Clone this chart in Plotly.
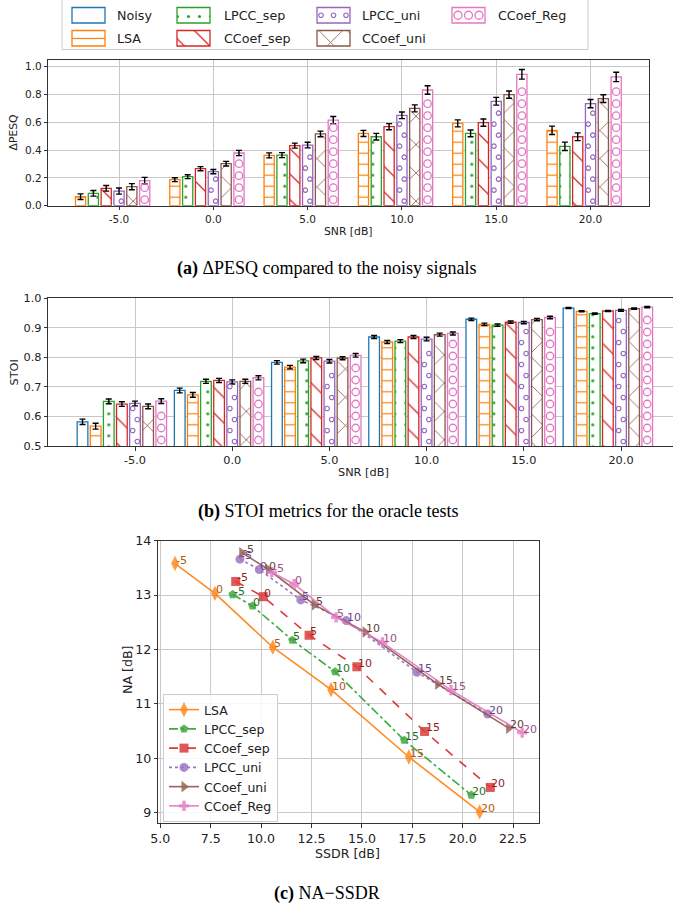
import plotly.graph_objects as go

W, H = 673, 908

# ---------------- data ----------------
snr_ticks = ["-5.0", "0.0", "5.0", "10.0", "15.0", "20.0"]
snr_names = ["-5", "0", "5", "10", "15", "20"]
methods = ["Noisy", "LSA", "LPCC_sep", "CCoef_sep", "LPCC_uni", "CCoef_uni", "CCoef_Reg"]
colors = ["#1f77b4", "#ff7f0e", "#2ca02c", "#d62728", "#9467bd", "#8c564b", "#e377c2"]
text_colors = ["#184f7a", "#b0590c", "#1f701f", "#961c1c", "#674884", "#623c34", "#a0508a"]

# ΔPESQ with respect to the noisy input
dpesq_lsa = [0.065, 0.187, 0.362, 0.520, 0.592, 0.542]
dpesq_lpcc_sep = [0.089, 0.209, 0.364, 0.496, 0.520, 0.427]
dpesq_ccoef_sep = [0.125, 0.266, 0.432, 0.568, 0.597, 0.496]
dpesq_lpcc_uni = [0.105, 0.245, 0.436, 0.650, 0.751, 0.734]
dpesq_ccoef_uni = [0.137, 0.302, 0.516, 0.700, 0.799, 0.770]
dpesq_ccoef_reg = [0.180, 0.379, 0.616, 0.832, 0.945, 0.926]

dpesq_err_lsa = [0.020, 0.014, 0.018, 0.022, 0.025, 0.030]
dpesq_err_lpcc_sep = [0.020, 0.014, 0.018, 0.024, 0.024, 0.030]
dpesq_err_ccoef_sep = [0.020, 0.015, 0.018, 0.022, 0.026, 0.028]
dpesq_err_lpcc_uni = [0.022, 0.015, 0.020, 0.024, 0.028, 0.030]
dpesq_err_ccoef_uni = [0.022, 0.017, 0.020, 0.025, 0.026, 0.028]
dpesq_err_ccoef_reg = [0.024, 0.019, 0.026, 0.031, 0.035, 0.034]

# STOI
stoi_noisy = [0.582, 0.688, 0.783, 0.869, 0.929, 0.967]
stoi_lsa = [0.567, 0.673, 0.767, 0.852, 0.912, 0.956]
stoi_lpcc_sep = [0.651, 0.719, 0.788, 0.855, 0.909, 0.948]
stoi_ccoef_sep = [0.642, 0.722, 0.798, 0.869, 0.919, 0.957]
stoi_lpcc_uni = [0.644, 0.717, 0.787, 0.862, 0.918, 0.959]
stoi_ccoef_uni = [0.634, 0.719, 0.797, 0.877, 0.928, 0.965]
stoi_ccoef_reg = [0.652, 0.731, 0.807, 0.881, 0.935, 0.970]

stoi_err_noisy = [0.009, 0.008, 0.006, 0.005, 0.004, 0.002]
stoi_err_lsa = [0.010, 0.008, 0.006, 0.005, 0.004, 0.002]
stoi_err_lpcc_sep = [0.008, 0.007, 0.006, 0.005, 0.004, 0.002]
stoi_err_ccoef_sep = [0.008, 0.007, 0.005, 0.005, 0.004, 0.002]
stoi_err_lpcc_uni = [0.008, 0.007, 0.006, 0.006, 0.004, 0.003]
stoi_err_ccoef_uni = [0.008, 0.007, 0.005, 0.005, 0.004, 0.002]
stoi_err_ccoef_reg = [0.008, 0.007, 0.006, 0.005, 0.004, 0.002]

# NA versus SSDR (one point per input SNR)
ssdr_lsa = [5.73, 7.71, 10.58, 13.47, 17.33, 20.84]
na_lsa = [13.58, 13.03, 12.04, 11.26, 10.02, 9.01]
ssdr_lpcc_sep = [8.59, 9.57, 11.55, 13.67, 17.10, 20.43]
na_lpcc_sep = [13.01, 12.80, 12.17, 11.59, 10.33, 9.32]
ssdr_ccoef_sep = [8.74, 10.11, 12.38, 14.75, 18.11, 21.37]
na_ccoef_sep = [13.25, 12.97, 12.26, 11.68, 10.49, 9.46]
ssdr_lpcc_uni = [8.95, 9.91, 11.97, 14.22, 17.73, 21.24]
na_lpcc_uni = [13.66, 13.47, 12.91, 12.53, 11.58, 10.81]
ssdr_ccoef_uni = [9.04, 10.36, 12.65, 15.16, 18.76, 22.28]
na_ccoef_uni = [13.78, 13.47, 12.82, 12.32, 11.36, 10.55]
ssdr_ccoef_reg = [10.53, 11.64, 13.72, 16.02, 19.42, 22.95]
na_ccoef_reg = [13.42, 13.20, 12.59, 12.13, 11.25, 10.47]

dpesq = [None, dpesq_lsa, dpesq_lpcc_sep, dpesq_ccoef_sep, dpesq_lpcc_uni, dpesq_ccoef_uni, dpesq_ccoef_reg]
dpesq_err = [None, dpesq_err_lsa, dpesq_err_lpcc_sep, dpesq_err_ccoef_sep, dpesq_err_lpcc_uni,
             dpesq_err_ccoef_uni, dpesq_err_ccoef_reg]
stoi = [stoi_noisy, stoi_lsa, stoi_lpcc_sep, stoi_ccoef_sep, stoi_lpcc_uni, stoi_ccoef_uni, stoi_ccoef_reg]
stoi_err = [stoi_err_noisy, stoi_err_lsa, stoi_err_lpcc_sep, stoi_err_ccoef_sep, stoi_err_lpcc_uni,
            stoi_err_ccoef_uni, stoi_err_ccoef_reg]
ssdr = [None, ssdr_lsa, ssdr_lpcc_sep, ssdr_ccoef_sep, ssdr_lpcc_uni, ssdr_ccoef_uni, ssdr_ccoef_reg]
na = [None, na_lsa, na_lpcc_sep, na_ccoef_sep, na_lpcc_uni, na_ccoef_uni, na_ccoef_reg]

# ---------------- styling ----------------
FONT = "DejaVu Sans"
SERIF = "Liberation Serif"
hatch_shape = ["", "-", ".", "\\", "", "x", ""]
hatch_size = [8, 11, 11, 18, 8, 20, 8]
hatch_solid = [0.3, 0.11, 0.06, 0.07, 0.3, 0.08, 0.3]
line_dash = [None, "solid", "dashdot", "dash", "dot", "solid", "solid"]
symbols = [None, "diamond-tall", "pentagon", "square", "circle", "triangle-right", "cross"]
msizes = [None, 11, 9, 9, 9, 10, 8.5]
CENTER_SLOT = 4  # the tick sits under the LPCC_uni bar of each group

# panel geometry in pixels (top, bottom, left, right)
A_BOX = (59.7, 205.7, 48.3, 649.0)
B_BOX = (298.3, 446.0, 48.3, 673.0)
C_BOX = (540.7, 823.3, 158.3, 539.3)
A_X, A_Y = [-0.75, 5.62], [0.0, 1.05]
B_X, B_Y = [-0.892, 5.535], [0.5, 1.0]
C_X, C_Y = [4.9, 23.8], [8.8, 14.0]


def xdom(box):
    return [box[2] / W, min(box[3] / W, 1.0)]


def ydom(box):
    return [1 - box[1] / H, 1 - box[0] / H]


def scale(box, xr, yr):
    ppx = (box[3] - box[2]) / (xr[1] - xr[0])
    ppy = (box[1] - box[0]) / (yr[1] - yr[0])
    return ppx, ppy


def bar_marker(k):
    m = dict(color="white", line=dict(color=colors[k], width=1.3))
    if hatch_shape[k]:
        m["pattern"] = dict(shape=hatch_shape[k], fgcolor=colors[k], bgcolor="white",
                            size=hatch_size[k], solidity=hatch_solid[k], fillmode="replace")
    return m


def ring_marks(xs, tops, bottom, ppx, ppy, step_px, first_px, margin_px, offs_px):
    rx, ry = [], []
    for xc, top in zip(xs, tops):
        y = bottom + first_px / ppy
        j = 0
        while y <= top - margin_px / ppy:
            rx.append(xc + offs_px[j % len(offs_px)] / ppx)
            ry.append(y)
            y += step_px / ppy
            j += 1
    return rx, ry


fig = go.Figure()


def add_bar_panel(values, errs, xa, ya, box, xr, yr, slot, width, skip_noisy):
    ppx, ppy = scale(box, xr, yr)
    for k in range(len(methods)):
        if skip_noisy and k == 0:
            continue
        xs = [i + (k - CENTER_SLOT) * slot for i in range(len(snr_ticks))]
        fig.add_trace(go.Bar(
            x=xs, y=values[k], width=width, base=0, xaxis=xa, yaxis=ya,
            marker=bar_marker(k), showlegend=False, hoverinfo="skip",
            error_y=dict(type="data", array=errs[k], color="black", thickness=1.4, width=3),
        ))
        if methods[k] == "LPCC_uni":
            rx, ry = ring_marks(xs, values[k], yr[0], ppx, ppy, 11.0, 4.5, 4.0, [2.3, -2.3])
            fig.add_trace(go.Scatter(
                x=rx, y=ry, mode="markers", xaxis=xa, yaxis=ya, showlegend=False, hoverinfo="skip",
                marker=dict(symbol="circle-open", size=4.5, color=colors[k], line=dict(width=1.2))))
        if methods[k] == "CCoef_Reg":
            rx, ry = ring_marks(xs, values[k], yr[0], ppx, ppy, 12.0, 6.0, 6.5, [0.0])
            fig.add_trace(go.Scatter(
                x=rx, y=ry, mode="markers", xaxis=xa, yaxis=ya, showlegend=False, hoverinfo="skip",
                marker=dict(symbol="circle-open", size=7.5, color=colors[k], line=dict(width=1.3))))


add_bar_panel(dpesq, dpesq_err, "x", "y", A_BOX, A_X, A_Y, 0.136, 0.108, True)
add_bar_panel(stoi, stoi_err, "x2", "y2", B_BOX, B_X, B_Y, 0.135, 0.110, False)

# ---------------- NA vs SSDR ----------------
for k in range(1, len(methods)):
    fig.add_trace(go.Scatter(
        x=ssdr[k], y=na[k], mode="lines+markers", name=methods[k], xaxis="x3", yaxis="y3",
        line=dict(color=colors[k], width=1.6, dash=line_dash[k]),
        marker=dict(symbol=symbols[k], size=msizes[k], color=colors[k], opacity=0.85),
        opacity=0.9, hoverinfo="skip",
    ))

annotations = []
for k in range(1, len(methods)):
    for xv, yv, t in zip(ssdr[k], na[k], snr_names):
        annotations.append(dict(
            x=xv, y=yv, xref="x3", yref="y3", text=t, showarrow=False,
            xanchor="left", yanchor="bottom", xshift=-1, yshift=-5,
            font=dict(family=FONT, size=11, color=text_colors[k])))

# ---------------- top legend for the bar panels ----------------
leg_col_left = [72, 177, 317, 452]
leg_text_left = [115, 222, 360, 496]
leg_row_top = [7.5, 30.5]
leg_slot = {"Noisy": (0, 0), "LSA": (0, 1), "LPCC_sep": (1, 0), "CCoef_sep": (1, 1),
            "LPCC_uni": (2, 0), "CCoef_uni": (2, 1), "CCoef_Reg": (3, 0)}
PATCH_W, PATCH_H = 33, 15.5
for k, m in enumerate(methods):
    c, r = leg_slot[m]
    x0 = leg_col_left[c]
    y0 = leg_row_top[r]
    fig.add_trace(go.Bar(x=[x0 + PATCH_W / 2], y=[PATCH_H], base=[y0], width=[PATCH_W],
                         xaxis="x4", yaxis="y4", marker=bar_marker(k), showlegend=False,
                         hoverinfo="skip"))
    if m == "LPCC_uni":
        fig.add_trace(go.Scatter(
            x=[x0 + 4, x0 + 16.5, x0 + 29], y=[y0 + PATCH_H / 2] * 3, mode="markers",
            xaxis="x4", yaxis="y4", showlegend=False, hoverinfo="skip",
            marker=dict(symbol="circle-open", size=4.5, color=colors[k], line=dict(width=1.2))))
    if m == "CCoef_Reg":
        fig.add_trace(go.Scatter(
            x=[x0 + 6, x0 + 16.5, x0 + 27], y=[y0 + PATCH_H / 2] * 3, mode="markers",
            xaxis="x4", yaxis="y4", showlegend=False, hoverinfo="skip",
            marker=dict(symbol="circle-open", size=8, color=colors[k], line=dict(width=1.3))))
    annotations.append(dict(
        x=leg_text_left[c], y=y0 + PATCH_H / 2, xref="x4", yref="y4", text=m, showarrow=False,
        xanchor="left", yanchor="middle", font=dict(family=FONT, size=12.7, color="#222")))

shapes = [dict(type="rect", xref="paper", yref="paper", x0=62 / W, x1=588 / W,
               y0=1 - 49.5 / H, y1=1.01, line=dict(color="#cccccc", width=1), layer="below")]


# ---------------- titles & captions ----------------
def ann_px(text, xp, yp, size, family=FONT, angle=0, color="#222"):
    annotations.append(dict(x=xp / W, y=1 - yp / H, xref="paper", yref="paper", text=text,
                            showarrow=False, xanchor="center", yanchor="middle", textangle=angle,
                            font=dict(family=family, size=size, color=color)))


ann_px("ΔPESQ", 13.5, 133, 10.8, angle=-90)
ann_px("SNR [dB]", 348, 231, 10.8)
ann_px("STOI", 13.5, 373, 11.3, angle=-90)
ann_px("SNR [dB]", 363.5, 472, 11.3)
ann_px("NA [dB]", 127, 670, 12.6, angle=-90)
ann_px("SSDR [dB]", 347.5, 853, 12.6)
ann_px("<b>(a)</b> ΔPESQ compared to the noisy signals", 327, 268, 18, family=SERIF, color="black")
ann_px("<b>(b)</b> STOI metrics for the oracle tests", 328, 511, 18, family=SERIF, color="black")
ann_px("<b>(c)</b> NA−SSDR", 327, 893, 18, family=SERIF, color="black")


def axis_style(size):
    return dict(showline=True, mirror=True, linecolor="#333333", linewidth=1, automargin=False,
                showgrid=True, gridcolor="#c8c8c8", gridwidth=1, zeroline=False,
                ticks="outside", ticklen=3.5, tickwidth=1, tickcolor="#333333",
                tickfont=dict(family=FONT, size=size, color="#222"))


fig.update_layout(
    width=W, height=H, margin=dict(l=0, r=0, t=0, b=0, pad=0, autoexpand=False),
    paper_bgcolor="white", plot_bgcolor="white",
    barmode="overlay", hovermode=False,
    xaxis=dict(domain=xdom(A_BOX), range=A_X, anchor="y", tickvals=list(range(6)),
               ticktext=snr_ticks, **axis_style(10.5)),
    yaxis=dict(domain=ydom(A_BOX), range=A_Y, anchor="x", dtick=0.2, tick0=0,
               tickformat=".1f", **axis_style(10.5)),
    xaxis2=dict(domain=xdom(B_BOX), range=B_X, anchor="y2", tickvals=list(range(6)),
                ticktext=snr_ticks, **axis_style(11.3)),
    yaxis2=dict(domain=ydom(B_BOX), range=B_Y, anchor="x2", dtick=0.1, tick0=0.5,
                tickformat=".1f", **axis_style(11.3)),
    xaxis3=dict(domain=xdom(C_BOX), range=C_X, anchor="y3", dtick=2.5, tick0=5,
                tickformat=".1f", **axis_style(12.6)),
    yaxis3=dict(domain=ydom(C_BOX), range=C_Y, anchor="x3", dtick=1, tick0=9,
                **axis_style(12.6)),
    xaxis4=dict(domain=[62 / W, 588 / W], range=[62, 588], anchor="y4", visible=False,
                automargin=False),
    yaxis4=dict(domain=[1 - 50 / H, 1], range=[50, 0], anchor="x4", visible=False,
                automargin=False),
    legend=dict(x=163 / W, y=1 - 694 / H, xanchor="left", yanchor="top",
                bgcolor="rgba(255,255,255,0.85)", bordercolor="#cccccc", borderwidth=1,
                font=dict(family=FONT, size=12.5, color="#222"), itemwidth=30),
    annotations=annotations, shapes=shapes,
)

fig.write_html("out.html")
